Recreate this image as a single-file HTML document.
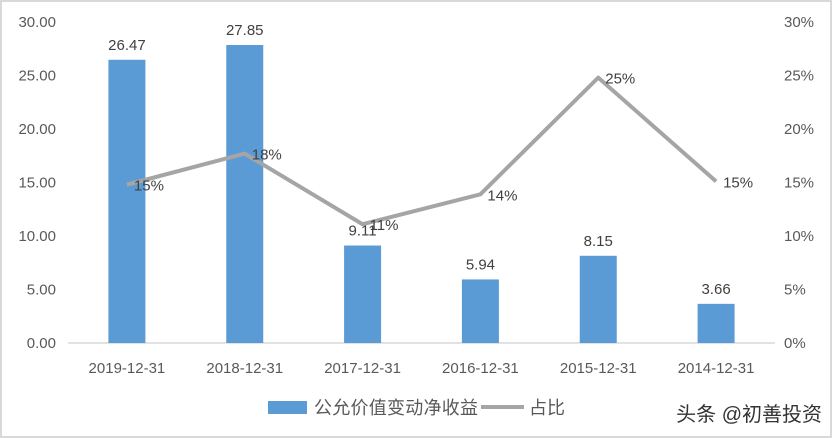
<!DOCTYPE html>
<html><head><meta charset="utf-8"><style>
body{margin:0;background:#fff;}
svg{display:block;font-family:"Liberation Sans","Noto Sans CJK SC",sans-serif;}
</style></head><body>
<svg id="c" width="832" height="438">
<rect x="1" y="1" width="830" height="436" fill="#fff" stroke="#d9d9d9" stroke-width="2"/>
<g id="g"></g>
</svg>
<script>
const categories=["2019-12-31","2018-12-31","2017-12-31","2016-12-31","2015-12-31","2014-12-31"];
const barValues=[26.47,27.85,9.11,5.94,8.15,3.66];
const lineValues=[14.8,17.7,11.1,13.9,24.8,15.1];
const lineLabels=["15%","18%","11%","14%","25%","15%"];
const leftTicks=["0.00","5.00","10.00","15.00","20.00","25.00","30.00"];
const rightTicks=["0%","5%","10%","15%","20%","25%","30%"];
const NS="http://www.w3.org/2000/svg",g=document.getElementById('g');
const x0=68,x1=775,y0=343,y1=22;
const yL=v=>y0-v/30*(y0-y1), yR=v=>y0-v/30*(y0-y1);
const step=(x1-x0)/categories.length, xc=i=>x0+step*(i+0.5);
function mk(t,a,txt){const e=document.createElementNS(NS,t);for(const k in a)e.setAttribute(k,a[k]);if(txt!=null)e.textContent=txt;g.appendChild(e);return e;}
leftTicks.forEach((t,i)=>{
 const e=mk('text',{x:56,y:yL(i*5)+5,'text-anchor':'end','font-size':15,fill:'#595959'},t);
 
 
});
rightTicks.forEach((t,i)=>{
 const e=mk('text',{x:784,y:yR(i*5)+5,'font-size':15,fill:'#595959'},t);
 
 
});
const ax=mk('line',{x1:x0,x2:x1,y1:y0,y2:y0,stroke:'#d9d9d9','stroke-width':1.5});


categories.forEach((c,i)=>{
 const b=mk('rect',{x:xc(i)-18.5,y:yL(barValues[i]),width:37,height:y0-yL(barValues[i]),fill:'#5b9bd5'});
 
 
 const l=mk('text',{x:xc(i),y:yL(barValues[i])-10,'text-anchor':'middle','font-size':15,fill:'#404040'},barValues[i].toFixed(2));
 
 
 const xl=mk('text',{x:xc(i),y:373,'text-anchor':'middle','font-size':15,fill:'#595959'},c);
 
 
});
const pts=lineValues.map((v,i)=>xc(i)+','+yR(v)).join(' ');
const pl=mk('polyline',{points:pts,fill:'none',stroke:'#a5a5a5','stroke-width':4,'stroke-linejoin':'round'});


lineValues.forEach((v,i)=>{
 const t=mk('text',{x:xc(i)+7,y:yR(v)+6,'font-size':15,fill:'#404040'},lineLabels[i]);
 
 
});
const lb=mk('rect',{x:268,y:401,width:39,height:13,fill:'#5b9bd5'});


const lt=mk('text',{x:314,y:414,'font-size':18,fill:'#595959','textLength':164},'公允价值变动净收益');


const ll=mk('line',{x1:481,x2:524,y1:407,y2:407,stroke:'#a5a5a5','stroke-width':4});


const lt2=mk('text',{x:529,y:414,'font-size':18,fill:'#595959'},'占比');


const wm=mk('text',{x:822,y:421,'text-anchor':'end','font-size':20,fill:'#333'},'头条 @初善投资');


</script>
</body></html>
